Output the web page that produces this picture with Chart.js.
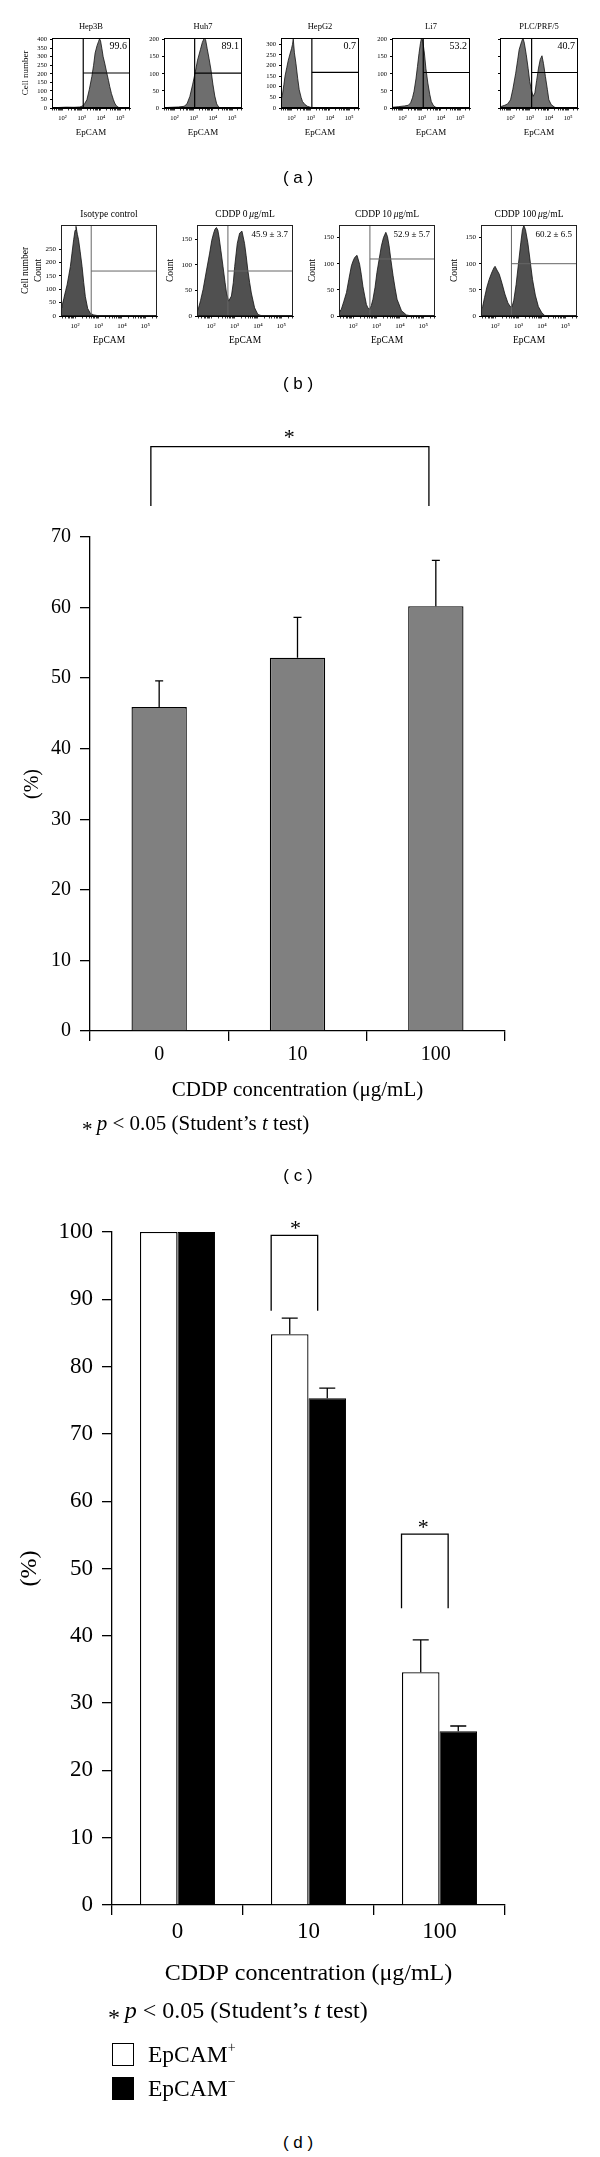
<!DOCTYPE html>
<html>
<head>
<meta charset="utf-8">
<title>EpCAM and CDDP</title>
<script src="https://cdn.jsdelivr.net/npm/chart.js@4.4.0/dist/chart.umd.min.js"></script>
<style>
    html, body { margin: 0; padding: 0; background: #fff; }
    body { position: relative; width: 600px; height: 2157px; overflow: hidden; }
    canvas { position: absolute; }
    .t { position: absolute; white-space: nowrap; line-height: 1; color: #000;
         font-family: "Liberation Serif", "Times New Roman", serif; }
    .panel { font-family: "Liberation Sans", Arial, sans-serif; }
    .t sup { font-size: 60%; line-height: 0; vertical-align: 0.7em; }
    .ast { position: relative; top: 0.28em; }
    .box { position: absolute; box-sizing: border-box; border: 1.3px solid #000; }
</style>
</head>
<body>
<script>
    "use strict";

    // (a) EpCAM in five cell lines (x = log10 intensity, y = cell number)
    var aNames = ["Hep3B", "Huh7", "HepG2", "Li7", "PLC/PRF/5"];
    var aPositive = ["99.6", "89.1", "0.7", "53.2", "40.7"];
    var aGateLog = [3.08, 3.05, 3.06, 3.08, 3.1];
    var aGateCount = [205, 102, 168, 104, 104];
    var aMaxCount = [410, 205, 330, 205, 205];
    var aCountTicks = [
        [0, 50, 100, 150, 200, 250, 300, 350, 400],
        [0, 50, 100, 150, 200],
        [0, 50, 100, 150, 200, 250, 300],
        [0, 50, 100, 150, 200],
        [0, 50, 100, 150, 200]
    ];

    var hep3bLog = [1.45, 1.8, 2.2, 2.6, 2.9, 3.05, 3.15, 3.27, 3.4, 3.53, 3.62, 3.7, 3.8, 3.88, 3.93, 3.98, 4.05, 4.12, 4.2, 4.3, 4.4, 4.46, 4.55, 4.65, 4.72, 4.8, 4.9, 5.0];
    var hep3bCount = [2, 3, 5, 4, 6, 12, 25, 48, 110, 185, 250, 322, 365, 390, 405, 395, 350, 300, 263, 210, 160, 127, 85, 50, 29, 14, 5, 0];
    var huh7Log = [1.45, 1.8, 2.2, 2.5, 2.65, 2.8, 2.95, 3.07, 3.2, 3.35, 3.45, 3.55, 3.62, 3.7, 3.8, 3.9, 4.0, 4.1, 4.2, 4.3, 4.4];
    var huh7Count = [1, 2, 3, 5, 12, 34, 70, 102, 140, 171, 192, 205, 200, 175, 145, 112, 70, 35, 12, 3, 0];
    var hepg2Log = [1.45, 1.52, 1.6, 1.66, 1.75, 1.83, 1.92, 2.0, 2.05, 2.09, 2.15, 2.23, 2.32, 2.4, 2.5, 2.57, 2.7, 2.83, 3.0, 3.2, 3.5];
    var hepg2Count = [40, 60, 110, 150, 190, 225, 255, 280, 300, 325, 260, 210, 140, 86, 50, 31, 16, 8, 3, 1, 0];
    var li7Log = [1.45, 1.8, 2.1, 2.3, 2.42, 2.52, 2.6, 2.7, 2.78, 2.86, 2.93, 3.0, 3.07, 3.14, 3.22, 3.32, 3.42, 3.5, 3.6, 3.7, 3.85];
    var li7Count = [2, 4, 6, 8, 15, 30, 49, 85, 122, 160, 188, 208, 190, 161, 115, 73, 40, 19, 8, 3, 0];
    var plcLog = [1.45, 1.54, 1.7, 1.85, 2.0, 2.12, 2.27, 2.37, 2.45, 2.58, 2.65, 2.72, 2.82, 2.92, 3.0, 3.1, 3.18, 3.27, 3.36, 3.46, 3.55, 3.64, 3.72, 3.82, 3.92, 4.0, 4.12, 4.28, 4.4];
    var plcCount = [3, 5, 8, 12, 24, 55, 102, 140, 171, 195, 205, 190, 156, 115, 78, 50, 34, 44, 80, 117, 142, 153, 130, 92, 55, 24, 10, 3, 0];

    // (b) PLC/PRF/5 after CDDP
    var bNames = ["Isotype control", "CDDP 0\u2009<i>\u03bc</i>g/mL", "CDDP 10\u2009<i>\u03bc</i>g/mL", "CDDP 100\u2009<i>\u03bc</i>g/mL"];
    var bPositive = ["", "45.9 \u00b1 3.7", "52.9 \u00b1 5.7", "60.2 \u00b1 6.5"];
    var bGateLog = [2.69, 2.72, 2.72, 2.7];
    var bGateCount = [168, 88, 109, 100];
    var bMaxCount = [340, 178, 174, 174];
    var bCountTicks = [
        [0, 50, 100, 150, 200, 250],
        [0, 50, 100, 150],
        [0, 50, 100, 150],
        [0, 50, 100, 150]
    ];

    var isoLog = [1.4, 1.44, 1.52, 1.6, 1.66, 1.73, 1.8, 1.87, 1.94, 2.0, 2.04, 2.1, 2.15, 2.22, 2.3, 2.37, 2.44, 2.54, 2.66, 2.8, 3.0, 3.3];
    var isoCount = [30, 36, 65, 95, 116, 150, 185, 235, 285, 320, 335, 305, 285, 240, 185, 125, 72, 28, 9, 4, 1, 0];
    var c0Log = [1.4, 1.45, 1.55, 1.66, 1.8, 1.94, 2.03, 2.11, 2.17, 2.23, 2.29, 2.34, 2.42, 2.51, 2.6, 2.66, 2.75, 2.87, 2.95, 3.01, 3.12, 3.22, 3.32, 3.43, 3.5, 3.57, 3.65, 3.72, 3.86, 4.0, 4.2];
    var c0Count = [8, 13, 30, 52, 88, 123, 148, 162, 170, 173, 168, 155, 128, 97, 65, 45, 29, 39, 65, 97, 142, 162, 166, 142, 118, 90, 65, 45, 16, 3, 0];
    var c10Log = [1.4, 1.5, 1.6, 1.72, 1.82, 1.93, 2.0, 2.07, 2.17, 2.28, 2.35, 2.42, 2.5, 2.57, 2.64, 2.71, 2.78, 2.85, 2.94, 3.02, 3.12, 3.21, 3.3, 3.4, 3.47, 3.54, 3.62, 3.71, 3.8, 3.88, 4.07, 4.28, 4.5];
    var c10Count = [6, 13, 27, 45, 70, 96, 105, 112, 116, 99, 80, 57, 38, 22, 15, 13, 20, 32, 55, 83, 110, 134, 150, 160, 152, 134, 106, 77, 52, 32, 10, 2, 0];
    var c100Log = [1.4, 1.47, 1.55, 1.65, 1.75, 1.85, 1.95, 2.0, 2.08, 2.18, 2.3, 2.42, 2.55, 2.65, 2.72, 2.8, 2.9, 3.0, 3.1, 3.17, 3.23, 3.3, 3.4, 3.5, 3.6, 3.72, 3.85, 4.0, 4.12, 4.3];
    var c100Count = [12, 18, 35, 55, 70, 82, 92, 95, 88, 80, 62, 42, 25, 18, 17, 30, 60, 100, 140, 165, 173, 165, 140, 105, 70, 40, 18, 6, 1, 0];

    // log axis: labelled decades and the minor ticks in between
    var decades = [2, 3, 4, 5];
    var minorSteps = [0.301, 0.477, 0.602, 0.699, 0.778, 0.845, 0.903, 0.954];

    // (c) EpCAM+ fraction
    var cDoses = ["0", "10", "100"];
    var cPercent = [45.9, 52.9, 60.2];
    var cSD = [3.7, 5.7, 6.5];
    var cTicks = [0, 10, 20, 30, 40, 50, 60, 70];

    // (d) survival of EpCAM+ / EpCAM- cells
    var dDoses = ["0", "10", "100"];
    var dPositive = [100, 84.8, 34.6];
    var dNegative = [100, 75.3, 25.8];
    var dPositiveSD = [0, 2.4, 4.8];
    var dNegativeSD = [0, 1.5, 0.8];
    var dTicks = [0, 10, 20, 30, 40, 50, 60, 70, 80, 90, 100];

    // significance brackets (category index / value units)
    var cBrackets = [{ from: -0.06, to: 1.95, low: 74.4, high: 82.8, star: 0.94, starAt: 84.7 }];
    var dBrackets = [
        { from: 0.715, to: 1.07, low: 88.3, high: 99.5, star: 0.9, starAt: 101.1 },
        { from: 1.71, to: 2.066, low: 44.1, high: 55.1, star: 1.876, starAt: 56.7 }
    ];

    var SERIF = '"Liberation Serif", "Times New Roman", serif';
    var SUP = { 2: "\u00b2", 3: "\u00b3", 4: "\u2074", 5: "\u2075" };
    Chart.defaults.font.family = SERIF;
    Chart.defaults.color = "#000";

    function text(html, x, y, size, align, cls) {
        var d = document.createElement("div");
        d.className = "t" + (cls ? " " + cls : "");
        d.innerHTML = html;
        d.style.left = x + "px";
        d.style.top = y + "px";
        d.style.fontSize = size + "px";
        var tx = align === "left" ? "0" : (align === "right" ? "-100%" : "-50%");
        d.style.transform = "translate(" + tx + ",-50%)";
        document.body.appendChild(d);
    }

    function addCanvas(left, top, w, h) {
        var cv = document.createElement("canvas");
        cv.width = w;
        cv.height = h;
        cv.style.left = left + "px";
        cv.style.top = top + "px";
        cv.style.width = w + "px";
        cv.style.height = h + "px";
        document.body.appendChild(cv);
        return cv;
    }

    function frame(color) {
        return {
            id: "frame",
            afterDatasetsDraw: function (chart) {
                var a = chart.chartArea, ctx = chart.ctx;
                ctx.save();
                ctx.strokeStyle = color;
                ctx.lineWidth = 1;
                ctx.strokeRect(a.left + 0.5, a.top + 0.5, a.right - a.left - 1, a.bottom - a.top - 1);
                ctx.restore();
            }
        };
    }

    function logTicks(min, max) {
        var out = [];
        for (var d = 1; d <= 5; d++) {
            if (d >= min && d <= max) out.push({ value: d });
            minorSteps.forEach(function (m) {
                if (d + m >= min && d + m <= max) out.push({ value: d + m });
            });
        }
        return out;
    }

    // one flow cytometry histogram
    function flowChart(p) {
        var padL = 46, padT = 10, padR = 6, padB = 40;
        var w = p.width + padL + padR;
        var h = (p.bottom - p.top) + padT + padB;
        var cv = addCanvas(p.left - padL, p.top - padT, w, h);
        new Chart(cv, {
            type: "line",
            data: {
                datasets: [{
                    data: p.logs.map(function (x, i) { return { x: x, y: p.counts[i] }; }),
                    fill: "origin",
                    backgroundColor: p.fill,
                    borderColor: "#111",
                    borderWidth: 0.8,
                    pointRadius: 0,
                    tension: 0,
                    order: 2
                }, {
                    data: [{ x: p.gateLog, y: 0 }, { x: p.gateLog, y: p.maxCount }],
                    borderColor: p.gate, borderWidth: p.gateWidth, pointRadius: 0, fill: false, order: 0
                }, {
                    data: [{ x: p.gateLog, y: p.gateCount }, { x: p.xMax, y: p.gateCount }],
                    borderColor: p.gate, borderWidth: p.gateWidth, pointRadius: 0, fill: false, order: 0
                }]
            },
            options: {
                responsive: false,
                animation: false,
                events: [],
                layout: { padding: { left: 0, top: padT, right: padR, bottom: 0 } },
                plugins: { legend: { display: false }, tooltip: { enabled: false } },
                scales: {
                    x: {
                        type: "linear", min: p.xMin, max: p.xMax,
                        afterFit: function (s) { s.height = padB; },
                        afterBuildTicks: function (s) { s.ticks = logTicks(p.xMin, p.xMax); },
                        ticks: {
                            callback: function (v) { return decades.indexOf(v) >= 0 ? "10" + SUP[v] : ""; },
                            font: { size: p.tickSize }, padding: p.xTickPad, maxRotation: 0, autoSkip: false
                        },
                        grid: { drawOnChartArea: false, tickLength: 2.5, color: "#000", lineWidth: 0.8 },
                        border: { color: "#000" },
                        title: { display: true, text: "EpCAM", font: { size: p.labelSize }, padding: { top: 0, bottom: p.xTitlePad } }
                    },
                    y: {
                        min: 0, max: p.maxCount,
                        afterFit: function (s) { s.width = padL; },
                        afterBuildTicks: function (s) { s.ticks = p.countTicks.map(function (v) { return { value: v }; }); },
                        ticks: { display: p.showCounts, font: { size: p.tickSize }, padding: 3, autoSkip: false },
                        grid: { drawOnChartArea: false, tickLength: 2, color: "#000" },
                        border: { color: "#000" },
                        title: {
                            display: !!p.yTitle, text: p.yTitle,
                            font: { size: p.labelSize, lineHeight: 1.35 },
                            padding: { top: p.yTitlePad, bottom: 0 }
                        }
                    }
                }
            },
            plugins: [frame(p.frameColor)]
        });
    }

    function errorBars(sds, cap) {
        return {
            id: "errorBars",
            afterDatasetsDraw: function (chart) {
                var ctx = chart.ctx, ys = chart.scales.y;
                ctx.save();
                ctx.strokeStyle = "#000";
                ctx.lineWidth = 1.3;
                chart.data.datasets.forEach(function (ds, di) {
                    chart.getDatasetMeta(di).data.forEach(function (bar, i) {
                        var sd = sds[di][i];
                        if (!sd) return;
                        var top = ys.getPixelForValue(ds.data[i] + sd);
                        ctx.beginPath();
                        ctx.moveTo(bar.x, bar.y);
                        ctx.lineTo(bar.x, top);
                        ctx.moveTo(bar.x - cap / 2, top);
                        ctx.lineTo(bar.x + cap / 2, top);
                        ctx.stroke();
                    });
                });
                ctx.restore();
            }
        };
    }

    function brackets(list, starSize) {
        return {
            id: "brackets",
            afterDraw: function (chart) {
                var ctx = chart.ctx, xs = chart.scales.x, ys = chart.scales.y;
                ctx.save();
                ctx.strokeStyle = "#000";
                ctx.fillStyle = "#000";
                ctx.lineWidth = 1.3;
                ctx.font = starSize + "px " + SERIF;
                ctx.textAlign = "center";
                ctx.textBaseline = "alphabetic";
                list.forEach(function (b) {
                    var x1 = xs.getPixelForValue(b.from), x2 = xs.getPixelForValue(b.to);
                    var yl = ys.getPixelForValue(b.low), yh = ys.getPixelForValue(b.high);
                    ctx.beginPath();
                    ctx.moveTo(x1, yl);
                    ctx.lineTo(x1, yh);
                    ctx.lineTo(x2, yh);
                    ctx.lineTo(x2, yl);
                    ctx.stroke();
                    ctx.fillText("*", xs.getPixelForValue(b.star), ys.getPixelForValue(b.starAt) + starSize * 0.47);
                });
                ctx.restore();
            }
        };
    }

    function barAxes(o) {
        return {
            x: {
                afterFit: function (s) { s.height = o.xHeight; },
                ticks: { font: { size: o.tickSize }, padding: o.xTickPad },
                grid: { drawOnChartArea: false, offset: true, tickLength: 10, color: "#000", lineWidth: 1.3 },
                border: { color: "#000", width: 1.3 },
                title: {
                    display: true, text: "CDDP concentration (\u03bcg/mL)",
                    font: { size: o.titleSize }, padding: { top: 0, bottom: o.xTitlePad }
                }
            },
            y: {
                min: 0, max: o.max,
                afterFit: function (s) { s.width = o.yWidth; },
                afterBuildTicks: function (s) { s.ticks = o.ticks.map(function (v) { return { value: v }; }); },
                ticks: { font: { size: o.tickSize }, padding: 9, autoSkip: false },
                grid: { drawOnChartArea: false, tickLength: 10, color: "#000", lineWidth: 1.3 },
                border: { color: "#000", width: 1.3 },
                title: { display: true, text: "(%)", font: { size: o.pctSize }, padding: { top: o.yTitlePad, bottom: 0 } }
            }
        };
    }

    var note = "<span class=\"ast\">*</span>\u2009<i>p</i> &lt; 0.05 (Student\u2019s <i>t</i> test)";

    // ---------- (a) ----------
    var aLeft = [52, 164, 281, 392, 500];
    var aLogs = [hep3bLog, huh7Log, hepg2Log, li7Log, plcLog];
    var aCounts = [hep3bCount, huh7Count, hepg2Count, li7Count, plcCount];
    for (var i = 0; i < aNames.length; i++) {
        flowChart({
            left: aLeft[i], width: 78, top: 38, bottom: 108,
            xMin: 1.45, xMax: 5.52,
            logs: aLogs[i], counts: aCounts[i],
            maxCount: aMaxCount[i], countTicks: aCountTicks[i], showCounts: i < 4,
            gateLog: aGateLog[i], gateCount: aGateCount[i],
            fill: "#6e6e6e", gate: "#000", gateWidth: 1.2, frameColor: "#000",
            tickSize: 6.5, labelSize: 9, xTickPad: 4, xTitlePad: 9.6,
            yTitle: i === 0 ? "Cell number" : "", yTitlePad: 13.9
        });
        text(aNames[i], aLeft[i] + 39, 25.5, 8.5);
        text(aPositive[i], aLeft[i] + 75, 45.5, 10, "right");
    }
    text("( a )", 298, 177, 17, "center", "panel");

    // ---------- (b) ----------
    var bLeft = [61, 197, 339, 481];
    var bLogs = [isoLog, c0Log, c10Log, c100Log];
    var bCounts = [isoCount, c0Count, c10Count, c100Count];
    for (var j = 0; j < bNames.length; j++) {
        flowChart({
            left: bLeft[j], width: 96, top: 225, bottom: 316,
            xMin: 1.4, xMax: 5.5,
            logs: bLogs[j], counts: bCounts[j],
            maxCount: bMaxCount[j], countTicks: bCountTicks[j], showCounts: true,
            gateLog: bGateLog[j], gateCount: bGateCount[j],
            fill: "#505050", gate: "#666", gateWidth: 1, frameColor: "#222",
            tickSize: 7, labelSize: 9.5, xTickPad: 3.7, xTitlePad: 10.3,
            yTitle: j === 0 ? ["Cell number", "Count"] : "Count",
            yTitlePad: j === 0 ? 3.9 : 13.5
        });
        text(bNames[j], bLeft[j] + 48, 215, 9.5);
        if (bPositive[j]) text(bPositive[j], bLeft[j] + 91, 234, 9, "right");
    }
    text("( b )", 298, 383, 17, "center", "panel");

    // ---------- (c) ----------
    new Chart(addCanvas(0, 420, 600, 720), {
        type: "bar",
        data: {
            labels: cDoses,
            datasets: [{
                data: cPercent,
                backgroundColor: "#808080",
                borderColor: "#000",
                borderWidth: 1.3,
                barPercentage: 0.4,
                categoryPercentage: 1
            }]
        },
        options: {
            responsive: false,
            animation: false,
            events: [],
            layout: { padding: { left: 0, top: 117, right: 95, bottom: 0 } },
            plugins: { legend: { display: false }, tooltip: { enabled: false } },
            scales: barAxes({
                max: 70, ticks: cTicks, xHeight: 109, yWidth: 90,
                tickSize: 20, xTickPad: 2, titleSize: 21, xTitlePad: 36.7,
                pctSize: 20, yTitlePad: 21
            })
        },
        plugins: [errorBars([cSD], 8), brackets(cBrackets, 22)]
    });
    text(note, 82, 1122.7, 21, "left");
    text("( c )", 298, 1175, 17, "center", "panel");

    // ---------- (d) ----------
    new Chart(addCanvas(0, 1200, 600, 800), {
        type: "bar",
        data: {
            labels: dDoses,
            datasets: [{
                label: "EpCAM+",
                data: dPositive,
                backgroundColor: "#fff",
                borderColor: "#000",
                borderWidth: 1.3,
                barPercentage: 1,
                categoryPercentage: 0.573
            }, {
                label: "EpCAM-",
                data: dNegative,
                backgroundColor: "#000",
                borderColor: "#000",
                borderWidth: 1,
                barPercentage: 1,
                categoryPercentage: 0.573
            }]
        },
        options: {
            responsive: false,
            animation: false,
            events: [],
            layout: { padding: { left: 0, top: 32, right: 95, bottom: 0 } },
            plugins: { legend: { display: false }, tooltip: { enabled: false } },
            scales: barAxes({
                max: 100, ticks: dTicks, xHeight: 95, yWidth: 112,
                tickSize: 23, xTickPad: 3, titleSize: 24, xTitlePad: 11.6,
                pctSize: 24, yTitlePad: 15.6
            })
        },
        plugins: [errorBars([dPositiveSD, dNegativeSD], 16), brackets(dBrackets, 22)]
    });
    text(note, 108, 2010, 24, "left");

    // legend of (d)
    var sq1 = document.createElement("div");
    sq1.className = "box";
    sq1.style.cssText = "left:112px;top:2043px;width:22px;height:23px;background:#fff;";
    document.body.appendChild(sq1);
    var sq2 = document.createElement("div");
    sq2.className = "box";
    sq2.style.cssText = "left:112px;top:2077px;width:22px;height:23px;background:#000;";
    document.body.appendChild(sq2);
    text("EpCAM<sup>+</sup>", 148, 2055, 23.5, "left");
    text("EpCAM<sup>\u2212</sup>", 148, 2089, 23.5, "left");
    text("( d )", 298, 2141.7, 17, "center", "panel");
</script>
</body>
</html>
